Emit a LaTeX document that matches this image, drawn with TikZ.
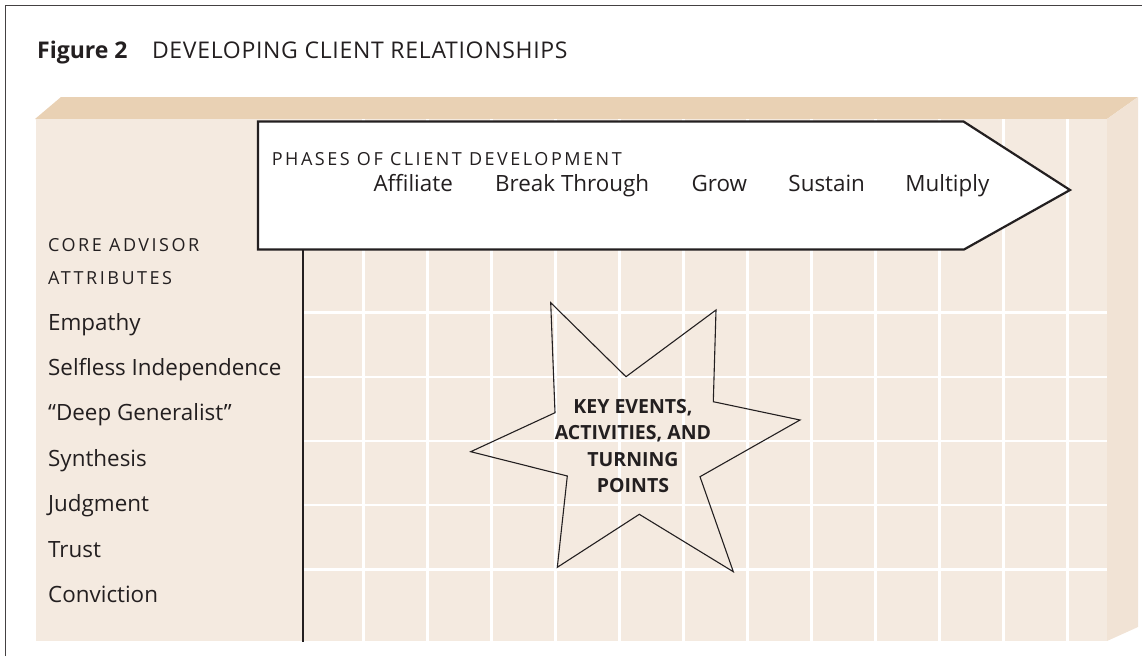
\documentclass[tikz,border=0pt]{standalone}
\usepackage{fontspec}
\setmainfont{Open Sans}
\newfontfamily\spacedcaps[LetterSpace=14]{Open Sans}
\newfontfamily\titlecaps[LetterSpace=3]{Open Sans}
\usetikzlibrary{positioning}

\definecolor{ink}{HTML}{231F20}
\definecolor{boxtop}{HTML}{E9D1B4}
\definecolor{boxfront}{HTML}{F4EAE0}
\definecolor{boxside}{HTML}{F1E3D5}

\begin{document}
\begin{tikzpicture}[
	x=1pt, y=-1pt,
	every node/.style={inner sep=0pt, text=ink},
	heading/.style={anchor=base west, font=\fontsize{23}{26}\selectfont},
	caps/.style={anchor=base west, font=\spacedcaps\fontsize{18}{20}\selectfont},
	attribute/.style={anchor=base west, font=\fontsize{22.4}{26}\selectfont},
	phase/.style={anchor=base west, font=\fontsize{22.4}{26}\selectfont},
	events/.style={align=center, font=\bfseries\fontsize{19.5}{26.3}\selectfont},
	gridline/.style={white, line width=2.6pt},
	outline/.style={draw=ink, line width=2.2pt, line join=miter}
	]

	\useasboundingbox (0,0) rectangle (1142,656);

	% frame round the figure
	\draw[ink!85, line width=1.3pt] (5.5,656) -- (5.5,5.5) -- (1142,5.5);

	% title
	\node[heading] (figno) at (37,58.3) {\bfseries Figure 2};
	\node[heading, base right=24pt of figno] (figtitle) {\titlecaps DEVELOPING CLIENT RELATIONSHIPS};

	% the box: top, front and side faces
	\fill[boxtop] (35,119) -- (61,97) -- (1138,97) -- (1107,119) -- cycle;
	\fill[boxfront] (36,119) rectangle (1107,641);
	\fill[boxside] (1107,119) -- (1138,97) -- (1138,627) -- (1107,641) -- cycle;

	% grid on the front face
	\foreach \x in {0,...,11}
		\draw[gridline] (363.4+64.02*\x,119) -- (363.4+64.02*\x,641);
	\foreach \y in {0,...,4}
		\draw[gridline] (303,312.7+64.15*\y) -- (1107,312.7+64.15*\y);

	\draw[ink, line width=2.2pt] (303,249) -- (303,642);

	% phases arrow
	\draw[outline, fill=white] (258,121.5) -- (963.5,121.5) -- (1070,190)
		-- (964,249.5) -- (258,249.5) -- cycle;
	\node[caps] (phases) at (271.7,165) {PHASES OF CLIENT DEVELOPMENT};
	\node[phase] (affiliate) at (373.3,191.7) {Affiliate};
	\node[phase, base right=42pt of affiliate] (breakthrough) {Break Through};
	\node[phase, base right=42pt of breakthrough] (grow) {Grow};
	\node[phase, base right=41pt of grow] (sustain) {Sustain};
	\node[phase, base right=40pt of sustain] (multiply) {Multiply};

	% attributes down the left side
	\node[caps] (core) at (48,251.7) {CORE ADVISOR};
	\node[caps] (attributes) at (48,284) {ATTRIBUTES};
	\foreach \lbl [count=\i] in {Empathy, Selfless Independence, “Deep Generalist”,
			Synthesis, Judgment, Trust, Conviction}
		\node[attribute] (attr\i) at (48,330+45.4*\i-45.4) {\lbl};

	% star
	\draw[ink, line width=1.1pt, line join=miter]
		(550.7,302.7) -- (626,376.7) -- (716,310) -- (713.3,401.7) -- (800,420)
		-- (700,476.7) -- (733.3,571.7) -- (639.3,514.3) -- (557.3,567.3)
		-- (567.3,476) -- (470.7,451.7) -- (555,412.7) -- cycle;
	\node[events, anchor=base] (keyevents) at (633,492.3)
		{KEY EVENTS,\\ ACTIVITIES, AND\\ TURNING\\ POINTS};

\end{tikzpicture}
\end{document}
